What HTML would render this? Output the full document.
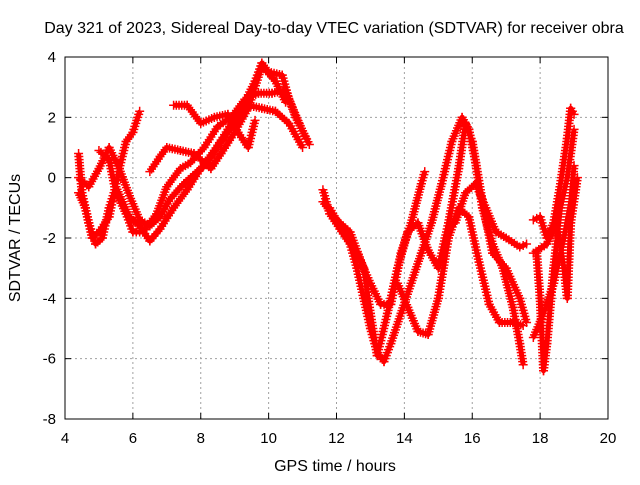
<!DOCTYPE html>
<html><head><meta charset="utf-8"><style>
body{margin:0;background:#fff}
svg text{font-family:"Liberation Sans",sans-serif;font-size:15px;fill:#000}
svg text.big{font-size:16px}
</style></head><body>
<svg id="chart" width="640" height="480">
<text class="big" x="334" y="33" text-anchor="middle">Day 321 of 2023, Sidereal Day-to-day VTEC variation (SDTVAR) for receiver obra</text>
<text class="big" x="335" y="471" text-anchor="middle">GPS time / hours</text>
<text class="big" transform="translate(20,238) rotate(-90)" text-anchor="middle">SDTVAR / TECUs</text>
<g id="grid"></g><g id="marks"></g><g id="axes"></g>
</svg>
<script>
const xTicks=[4,6,8,10,12,14,16,18,20];
const yTicks=[-8,-6,-4,-2,0,2,4];
const trackA=[[4.4,0.8],[4.5,-0.5],[4.7,-1.5],[4.9,-2.2],[5.1,-2.0],[5.3,-1.0],[5.5,-0.3],[5.7,-0.8],[5.9,-1.3],[6.2,-1.6],[6.5,-2.1],[6.8,-1.7],[7.2,-1.0],[7.6,-0.4],[8.0,0.3],[8.4,0.9],[8.8,1.6],[9.2,2.3],[9.6,3.2],[9.8,3.8],[10.0,3.5],[10.4,3.4],[10.6,2.6],[10.9,1.8],[11.1,1.3]];
const trackB=[[4.4,0],[4.7,-0.3],[5.0,0.3],[5.3,1.0],[5.6,0.3],[5.9,-0.6],[6.2,-1.4],[6.5,-1.6],[6.8,-1.3],[7.1,-0.7],[7.5,-0.2],[7.9,0.2],[8.2,0.5],[8.6,1.2],[9.0,1.8],[9.4,2.4],[9.8,2.3],[10.2,2.2],[10.6,1.8],[11.0,1.0]];
const trackC=[[5.0,0.9],[5.3,0.6],[5.5,-0.5],[5.8,-1.2],[6.0,-1.8],[6.3,-1.8],[6.7,-1.2],[7.0,-0.3],[7.4,0.3],[7.7,0.5],[8.1,1.0],[8.5,1.7],[8.9,2.0],[9.3,2.6],[9.7,2.8],[10.1,2.8],[10.5,2.9],[10.8,2.0],[11.2,1.1]];
const trackD=[[4.4,-0.5],[4.6,-1.0],[4.8,-2.0],[5.0,-1.8],[5.3,-1.3],[5.6,0.3],[5.8,1.2],[6.0,1.5],[6.2,2.2]];
const trackE=[[6.5,0.2],[6.8,0.7],[7.0,1.0],[7.4,0.9],[7.8,0.8],[8.1,0.5],[8.3,0.3],[8.6,0.8],[9.0,1.5],[9.4,2.3],[9.8,3.7],[10.2,3.2],[10.5,2.5]];
const trackF=[[7.2,2.4],[7.6,2.4],[8.0,1.8],[8.4,2.0],[8.8,2.1],[9.1,1.5],[9.4,1.0],[9.6,1.9]];
const trackG=[[11.6,-0.4],[11.8,-1.2],[12.1,-1.7],[12.4,-2.2],[12.6,-3.0],[12.8,-4.0],[13.0,-5.0],[13.2,-5.8],[13.4,-6.1],[13.6,-5.5],[13.9,-4.5],[14.2,-3.5],[14.5,-2.5],[14.8,-1.5],[15.1,-0.2],[15.4,1.2],[15.7,2.0],[15.9,1.6],[16.1,0.5],[16.3,-1.0],[16.6,-2.2],[16.9,-3.0],[17.2,-4.3],[17.4,-5.5],[17.5,-6.2]];
const trackH=[[11.6,-0.8],[12.0,-1.4],[12.4,-1.8],[12.8,-3.0],[13.0,-4.5],[13.2,-5.9],[13.5,-4.5],[13.8,-3.0],[14.1,-1.8],[14.4,-1.5],[14.7,-2.4],[15.0,-3.0],[15.3,-1.5],[15.6,0.3],[15.8,1.8],[16.0,1.2],[16.3,-0.8],[16.6,-2.5],[17.0,-3.0],[17.4,-4.0],[17.6,-4.8]];
const trackI=[[11.8,-1.0],[12.2,-1.8],[12.6,-2.5],[13.0,-3.5],[13.3,-4.2],[13.6,-4.2],[13.9,-2.5],[14.2,-1.5],[14.5,-0.2],[14.6,0.2]];
const trackJ=[[13.8,-3.5],[14.1,-4.3],[14.4,-5.1],[14.7,-5.2],[15.0,-4.0],[15.3,-2.0],[15.6,-1.0],[15.9,-1.3],[16.2,-2.8],[16.5,-4.2],[16.8,-4.8],[17.2,-4.8],[17.5,-4.9]];
const trackK=[[15.5,-1.5],[15.8,-0.5],[16.1,-0.2],[16.4,-1.0],[16.7,-1.8],[17.0,-2.0],[17.4,-2.3],[17.6,-2.2]];
const trackL=[[17.8,-1.4],[18.0,-1.3],[18.2,-2.0],[18.4,-1.5],[18.6,-0.2],[18.8,1.3],[18.9,2.3],[19.0,2.1]];
const trackM=[[17.9,-2.5],[18.0,-4.0],[18.1,-6.4],[18.2,-5.5],[18.4,-3.0],[18.6,-1.0],[18.8,0.0],[19.0,1.6]];
const trackN=[[17.8,-5.3],[18.1,-4.5],[18.4,-3.5],[18.7,-2.0],[18.9,-0.8],[19.0,0.4]];
const trackO=[[17.8,-2.5],[18.2,-2.2],[18.5,-1.5],[18.7,-3.0],[18.8,-4.0],[18.9,-1.5],[19.1,0.0]];
const tracks=[trackA,trackB,trackC,trackD,trackE,trackF,trackG,trackH,trackI,trackJ,trackK,trackL,trackM,trackN,trackO];

const L=65,R=608,T=57,B=419;
const sx=v=>L+(v-4)/16*(R-L);
const sy=v=>B-(v+8)/12*(B-T);
const NS="http://www.w3.org/2000/svg";
function mk(t,a,p){const e=document.createElementNS(NS,t);for(const k in a)e.setAttribute(k,a[k]);p.appendChild(e);return e;}
const grid=document.getElementById('grid'),axes=document.getElementById('axes'),marks=document.getElementById('marks');
xTicks.forEach(v=>{
  const x=sx(v);
  if(v>4&&v<20){const g=mk('line',{x1:x,x2:x,y1:T,y2:B,stroke:'#a0a0a0','stroke-dasharray':'2,3'},grid);
  
  }
  mk('line',{x1:x,x2:x,y1:B,y2:B-6,stroke:'#000'},axes);
  mk('line',{x1:x,x2:x,y1:T,y2:T+6,stroke:'#000'},axes);
  const t=mk('text',{x:x,y:B+24,'text-anchor':'middle'},axes);t.textContent=v;
  
  
});
yTicks.forEach(v=>{
  const y=sy(v);
  if(v>-8&&v<4){const g=mk('line',{x1:L,x2:R,y1:y,y2:y,stroke:'#a0a0a0','stroke-dasharray':'2,3'},grid);
  
  }
  mk('line',{x1:L,x2:L+6,y1:y,y2:y,stroke:'#000'},axes);
  mk('line',{x1:R,x2:R-6,y1:y,y2:y,stroke:'#000'},axes);
  const t=mk('text',{x:L-9,y:y+5,'text-anchor':'end'},axes);t.textContent=v;
  
  
});
const fr=mk('rect',{x:L,y:T,width:R-L,height:B-T,fill:'none',stroke:'#000'},axes);


tracks.forEach((tr,i)=>{
  const g=mk('g',{},marks);
  
  
  let d='';
  for(let k=0;k<tr.length;k++){
    const x=sx(tr[k][0]),y=sy(tr[k][1]);
    d+=(k?'L':'M')+x+','+y;
    if(k>0){
      const x0=sx(tr[k-1][0]),y0=sy(tr[k-1][1]);
      const n=Math.max(1,Math.round(Math.hypot(x-x0,y-y0)/3));
      for(let j=0;j<=n;j++){
        const px=x0+(x-x0)*j/n,py=y0+(y-y0)*j/n;
        mk('path',{d:`M${px-4.5},${py}h9M${px},${py-4.5}v9`,stroke:'#ff0000','stroke-width':1.5},g);
      }
    }
  }
  mk('path',{d:d,fill:'none',stroke:'#ff0000','stroke-width':5,'stroke-linejoin':'round'},g);
});
</script>
</body></html>
